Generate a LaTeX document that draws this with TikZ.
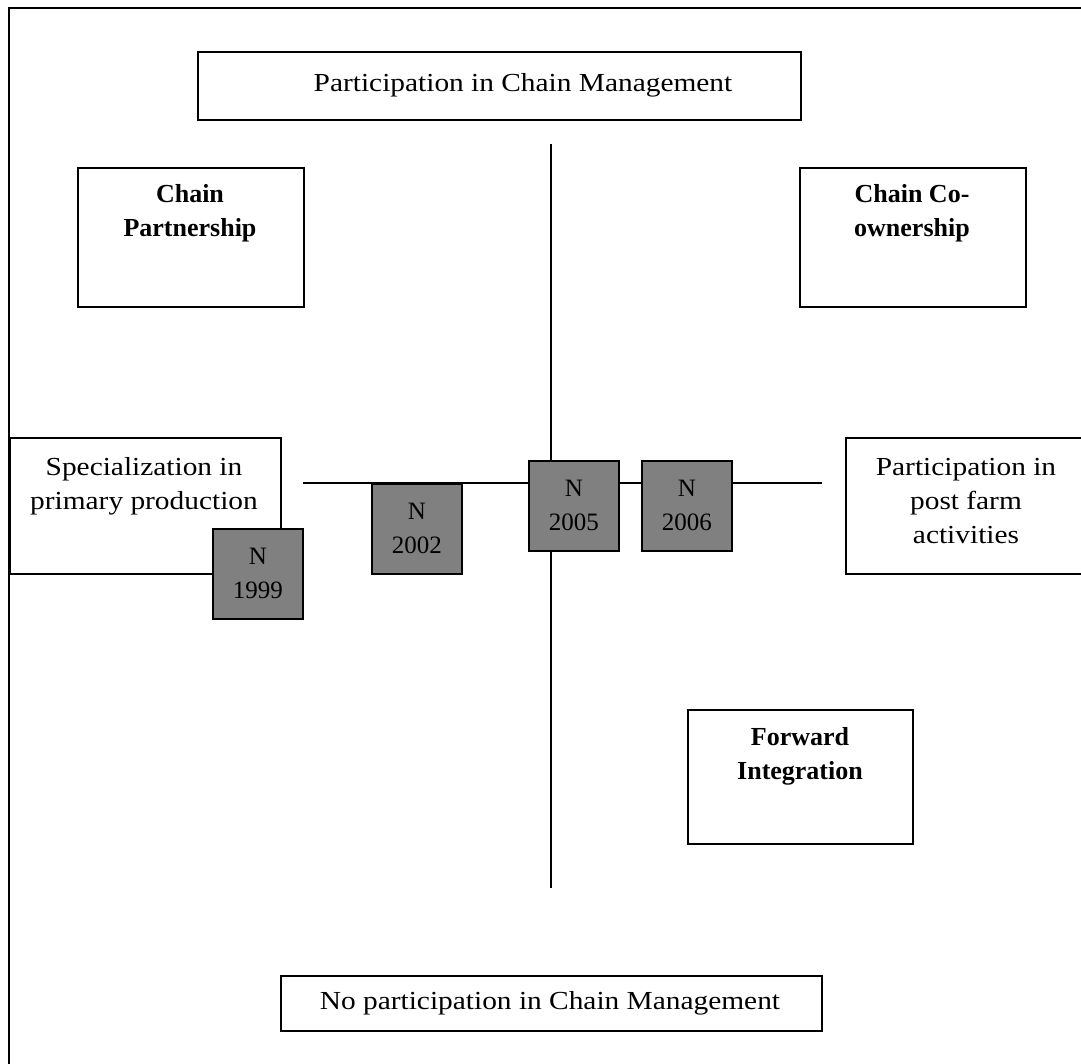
\documentclass[tikz,border=0pt]{standalone}
\usepackage{fontspec}
\setmainfont{Liberation Serif}
\newfontfamily\bodyfont[FakeStretch=1.13]{Liberation Serif}
\definecolor{boxgray}{RGB}{128,128,128}
\begin{document}
\begin{tikzpicture}[x=1pt,y=-1pt,
  frame/.style={line width=2.2pt,draw=black},
  axis/.style={line width=1.6pt,draw=black},
  box/.style={draw=black,line width=1.6pt,fill=white,inner sep=0pt,anchor=north west},
  yearbox/.style={draw=black,line width=1.6pt,fill=boxgray,inner sep=0pt,anchor=north west,
    minimum width=90pt,minimum height=90pt},
  plain/.style={font=\fontsize{26}{34}\bodyfont,align=center,inner sep=0pt},
  heavy/.style={font=\fontsize{26}{34}\selectfont\bfseries,align=center,inner sep=0pt},
  yeartext/.style={font=\fontsize{25}{34}\selectfont,align=center,inner sep=0pt}]
\useasboundingbox (0,0) rectangle (1081,1063);

% outer frame, open towards the right and the bottom
\coordinate (fbl) at (9,1070);
\coordinate (ftl) at (9,8);
\coordinate (ftr) at (1090,8);
\draw[frame] (fbl) -- (ftl) -- (ftr);

% axes
\coordinate (vtop) at (551,144);
\coordinate (vbot) at (551,888);
\coordinate (hleft) at (303,483);
\coordinate (hright) at (822,483);
\draw[axis] (vtop) -- (vbot);
\draw[axis] (hleft) -- (hright);

% poles of the two axes
\node[box,minimum width=603pt,minimum height=68pt] (top) at (197,51) {};
\node[plain] (toptext) at (523,85) {Participation in Chain Management};

\node[box,minimum width=541pt,minimum height=55pt] (bottom) at (280,975) {};
\node[plain] (bottomtext) at (550,1003) {No participation in Chain Management};

\node[box,minimum width=271pt,minimum height=136pt] (left) at (9,437) {};
\node[plain] (lefttext) at (144,486) {Specialization in\\primary production};

\node[box,minimum width=250pt,minimum height=136pt] (right) at (845,437) {};
\node[plain] (righttext) at (966,501) {Participation in\\post farm\\activities};

% quadrant labels
\node[box,minimum width=226pt,minimum height=139pt] (cp) at (77,167) {};
\node[heavy] (cptext) at (190,213) {Chain\\Partnership};

\node[box,minimum width=226pt,minimum height=139pt] (cc) at (799,167) {};
\node[heavy] (cctext) at (912,213) {Chain Co-\\ownership};

\node[box,minimum width=225pt,minimum height=134pt] (fi) at (687,709) {};
\node[heavy] (fitext) at (800,756) {Forward\\Integration};

% positions over the years
\node[yearbox] (y1999) at (212,528) {};
\node[yeartext] at (y1999.center) {N\\1999};
\node[yearbox] (y2002) at (371,483) {};
\node[yeartext] at (y2002.center) {N\\2002};
\node[yearbox] (y2005) at (528,460) {};
\node[yeartext] at (y2005.center) {N\\2005};
\node[yearbox] (y2006) at (641,460) {};
\node[yeartext] at (y2006.center) {N\\2006};
\end{tikzpicture}
\end{document}
